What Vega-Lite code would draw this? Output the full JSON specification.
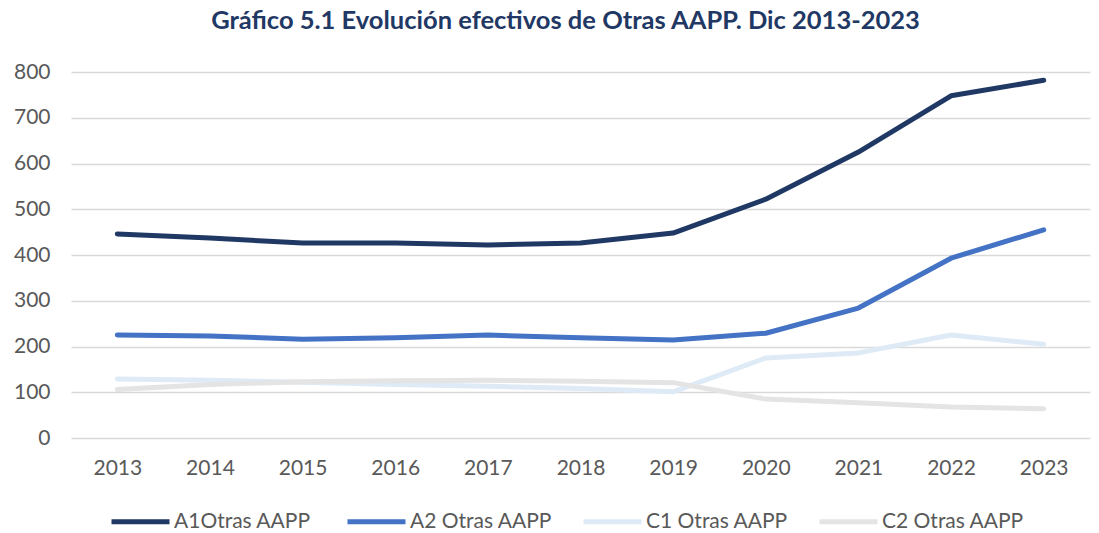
{
  "$schema": "https://vega.github.io/schema/vega-lite/v6.json",
  "width": 1019,
  "height": 366,
  "autosize": {"type": "none"},
  "padding": {"left": 71, "top": 72, "right": 9, "bottom": 95},
  "background": "white",
  "title": {
    "text": "Gráfico 5.1 Evolución efectivos de Otras AAPP. Dic 2013-2023",
    "font": "Lato",
    "fontSize": 25.5,
    "fontWeight": "bold",
    "color": "#1F3864",
    "anchor": "middle",
    "dx": -15,
    "offset": 27
  },
  "data": {
    "values": [
      {"year": "2013", "serie": "A1Otras AAPP", "value": 446},
      {"year": "2014", "serie": "A1Otras AAPP", "value": 437},
      {"year": "2015", "serie": "A1Otras AAPP", "value": 426},
      {"year": "2016", "serie": "A1Otras AAPP", "value": 426},
      {"year": "2017", "serie": "A1Otras AAPP", "value": 422},
      {"year": "2018", "serie": "A1Otras AAPP", "value": 426},
      {"year": "2019", "serie": "A1Otras AAPP", "value": 448},
      {"year": "2020", "serie": "A1Otras AAPP", "value": 522},
      {"year": "2021", "serie": "A1Otras AAPP", "value": 625},
      {"year": "2022", "serie": "A1Otras AAPP", "value": 748},
      {"year": "2023", "serie": "A1Otras AAPP", "value": 782},
      {"year": "2013", "serie": "A2 Otras AAPP", "value": 225},
      {"year": "2014", "serie": "A2 Otras AAPP", "value": 223},
      {"year": "2015", "serie": "A2 Otras AAPP", "value": 216},
      {"year": "2016", "serie": "A2 Otras AAPP", "value": 219},
      {"year": "2017", "serie": "A2 Otras AAPP", "value": 225},
      {"year": "2018", "serie": "A2 Otras AAPP", "value": 219},
      {"year": "2019", "serie": "A2 Otras AAPP", "value": 214},
      {"year": "2020", "serie": "A2 Otras AAPP", "value": 229},
      {"year": "2021", "serie": "A2 Otras AAPP", "value": 284},
      {"year": "2022", "serie": "A2 Otras AAPP", "value": 393},
      {"year": "2023", "serie": "A2 Otras AAPP", "value": 455},
      {"year": "2013", "serie": "C1 Otras AAPP", "value": 129},
      {"year": "2014", "serie": "C1 Otras AAPP", "value": 126},
      {"year": "2015", "serie": "C1 Otras AAPP", "value": 122},
      {"year": "2016", "serie": "C1 Otras AAPP", "value": 117},
      {"year": "2017", "serie": "C1 Otras AAPP", "value": 113},
      {"year": "2018", "serie": "C1 Otras AAPP", "value": 108},
      {"year": "2019", "serie": "C1 Otras AAPP", "value": 101},
      {"year": "2020", "serie": "C1 Otras AAPP", "value": 175},
      {"year": "2021", "serie": "C1 Otras AAPP", "value": 186},
      {"year": "2022", "serie": "C1 Otras AAPP", "value": 225},
      {"year": "2023", "serie": "C1 Otras AAPP", "value": 205},
      {"year": "2013", "serie": "C2 Otras AAPP", "value": 106},
      {"year": "2014", "serie": "C2 Otras AAPP", "value": 117},
      {"year": "2015", "serie": "C2 Otras AAPP", "value": 123},
      {"year": "2016", "serie": "C2 Otras AAPP", "value": 125},
      {"year": "2017", "serie": "C2 Otras AAPP", "value": 126},
      {"year": "2018", "serie": "C2 Otras AAPP", "value": 124},
      {"year": "2019", "serie": "C2 Otras AAPP", "value": 121},
      {"year": "2020", "serie": "C2 Otras AAPP", "value": 85},
      {"year": "2021", "serie": "C2 Otras AAPP", "value": 77},
      {"year": "2022", "serie": "C2 Otras AAPP", "value": 68},
      {"year": "2023", "serie": "C2 Otras AAPP", "value": 64}
    ]
  },
  "mark": {"type": "line", "strokeWidth": 5, "strokeCap": "round", "strokeJoin": "round"},
  "encoding": {
    "x": {
      "field": "year",
      "type": "ordinal",
      "scale": {"type": "point", "padding": 0.5},
      "axis": {
        "title": null,
        "labelAngle": 0,
        "labelFont": "Lato",
        "labelFontSize": 21,
        "labelColor": "#595959",
        "labelPadding": 19,
        "ticks": false,
        "domain": false,
        "grid": false
      }
    },
    "y": {
      "field": "value",
      "type": "quantitative",
      "scale": {"domain": [0, 800], "nice": false},
      "axis": {
        "title": null,
        "values": [0, 100, 200, 300, 400, 500, 600, 700, 800],
        "labelFont": "Lato",
        "labelFontSize": 21,
        "labelColor": "#595959",
        "labelPadding": 21,
        "ticks": false,
        "domain": false,
        "grid": true,
        "gridColor": "#D9D9D9",
        "gridWidth": 1.5
      }
    },
    "color": {
      "field": "serie",
      "type": "nominal",
      "scale": {
        "domain": ["A1Otras AAPP", "A2 Otras AAPP", "C1 Otras AAPP", "C2 Otras AAPP"],
        "range": ["#203864", "#4472C4", "#DEEBF7", "#E4E4E4"]
      },
      "legend": {
        "title": null,
        "orient": "none",
        "legendX": 38,
        "legendY": 418,
        "direction": "horizontal",
        "columns": 4,
        "gridAlign": "all",
        "columnPadding": 20,
        "symbolType": "M-1,0H1",
        "symbolSize": 3364,
        "symbolStrokeWidth": 5,
        "labelFont": "Lato",
        "labelFontSize": 21,
        "labelColor": "#595959",
        "labelOffset": 2,
        "labelLimit": 300
      }
    }
  },
  "config": {"view": {"stroke": null}}
}
